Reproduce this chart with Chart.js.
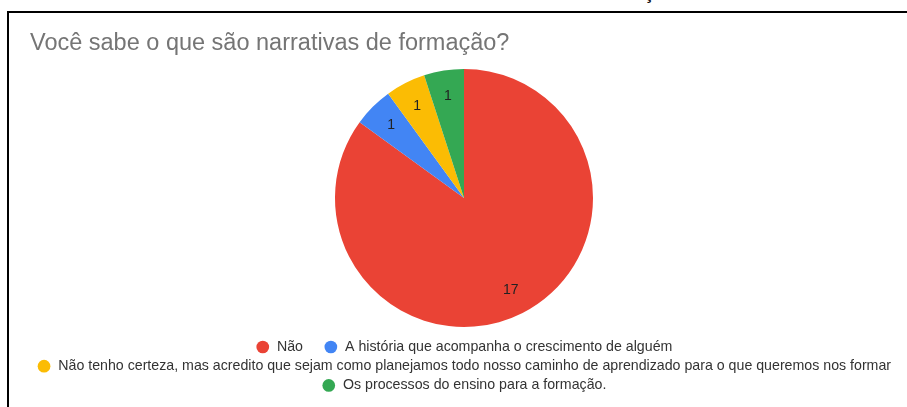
<!DOCTYPE html>
<html>
<head>
<meta charset="utf-8">
<script src="https://cdn.jsdelivr.net/npm/chart.js@4"></script>
<style>
  html,body{margin:0;padding:0;background:#fff;width:907px;height:407px;overflow:hidden;position:relative}
  .head{position:absolute;left:644px;top:-15.7px;font:bold 18px/18px "Liberation Sans",Arial,sans-serif;color:#111;white-space:nowrap}
  .frame{position:absolute;left:7px;top:11px;width:900px;height:396px;border-left:2px solid #000;border-top:2px solid #000;box-sizing:border-box}
  canvas{display:block}
</style>
</head>
<body>
<div class="head">ção</div>
<div class="frame"><canvas id="pie" width="898" height="394"></canvas></div>
<script>
// ===== DATA =====
const pergunta = 'Você sabe o que são narrativas de formação?';
const respostas = [
  'Não',
  'A história que acompanha o crescimento de alguém',
  'Não tenho certeza, mas acredito que sejam como planejamos todo nosso caminho de aprendizado para o que queremos nos formar',
  'Os processos do ensino para a formação.'
];
const contagem = [17, 1, 1, 1];
const cores = ['#ea4335', '#4285f4', '#fbbc04', '#34a853'];

const fonte = '"Liberation Sans", Arial, sans-serif';

// numeros dentro das fatias
const valorFatia = {
  id: 'valorFatia',
  afterDatasetsDraw(chart) {
    const ctx = chart.ctx;
    const meta = chart.getDatasetMeta(0);
    ctx.save();
    ctx.font = '14px ' + fonte;
    ctx.fillStyle = '#222';
    ctx.textAlign = 'center';
    ctx.textBaseline = 'middle';
    meta.data.forEach((arc, i) => {
      const p = arc.getProps(['x','y','startAngle','endAngle','outerRadius']);
      const a = (p.startAngle + p.endAngle) / 2;
      const r = p.outerRadius * 0.8;
      ctx.fillText(String(contagem[i]), p.x + Math.cos(a) * r, p.y + Math.sin(a) * r);
    });
    ctx.restore();
  }
};

new Chart(document.getElementById('pie').getContext('2d'), {
  type: 'pie',
  data: {
    labels: respostas,
    datasets: [{
      data: contagem,
      backgroundColor: cores,
      borderWidth: 0,
      radius: 129
    }]
  },
  options: {
    responsive: false,
    animation: false,
    layout: { padding: { left: 21, right: 9, top: 0, bottom: 4.5 } },
    plugins: {
      title: {
        display: true,
        text: pergunta,
        align: 'start',
        color: '#757575',
        font: { family: fonte, size: 23.5, weight: 'normal' },
        padding: { top: 16, bottom: 3.9 }
      },
      legend: {
        position: 'bottom',
        labels: {
          usePointStyle: true,
          pointStyle: 'circle',
          boxHeight: 9,
          padding: 5,
          color: '#333',
          font: { family: fonte, size: 14.2 },
          // um pouco mais de espaço depois do "Não" na primeira linha
          generateLabels(chart) {
            const itens = Chart.controllers.pie.overrides.plugins.legend.labels.generateLabels(chart);
            itens[0].text += '\u00a0\u00a0\u00a0\u00a0';
            return itens;
          }
        }
      },
      tooltip: { enabled: false }
    }
  },
  plugins: [valorFatia]
});
</script>
</body>
</html>
